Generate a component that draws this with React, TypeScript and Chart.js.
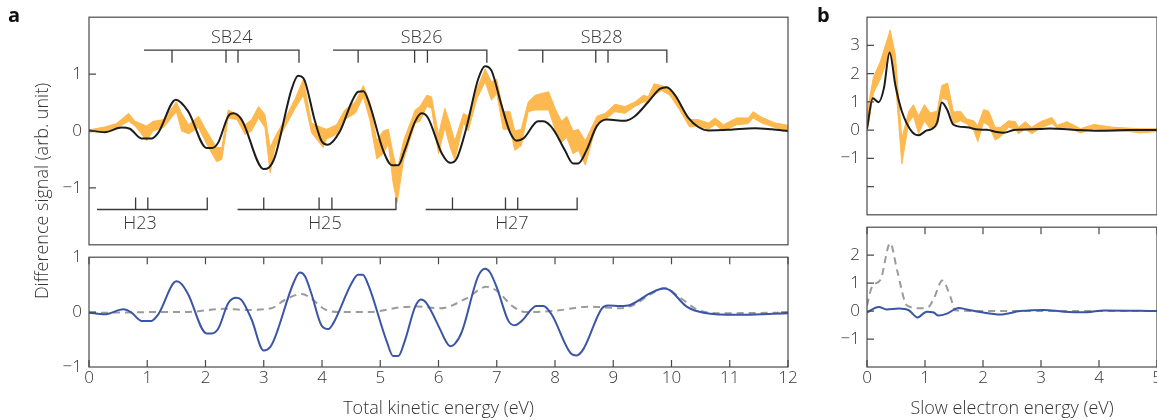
import React, { useEffect, useRef } from 'react';
import { Chart, registerables } from 'chart.js';

Chart.register(...registerables);

const FONT = '"Open Sans", "DejaVu Sans", sans-serif';
const TEXT = '#333333';
const FRAME = '#4a4a4a';
const ORANGE = '#FDB94F';
const BLACK = '#1c1c1c';
const BLUE = '#3A55A5';
const GRAY = '#9b9b9b';

// ---------- Panel a, upper: experiment band (orange) and simulation (black) ----------
const aBlackX = [0, 0.27, 0.56, 0.7, 0.9, 1.08, 1.19, 1.49, 1.7, 2.02, 2.11, 2.22, 2.39, 2.48, 2.62, 3.0, 3.09, 3.19, 3.48, 3.59, 3.68, 3.88, 3.99, 4.1, 4.31, 4.51, 4.62, 4.71, 4.82, 5.05, 5.2, 5.31, 5.42, 5.6, 5.71, 5.82, 6.06, 6.2, 6.31, 6.48, 6.68, 6.8, 6.91, 7.08, 7.23, 7.34, 7.46, 7.71, 7.8, 7.97, 8.17, 8.31, 8.4, 8.54, 8.72, 8.89, 9.2, 9.37, 9.6, 9.8, 9.92, 10.06, 10.29, 10.46, 10.63, 10.98, 11.43, 11.72, 12.0];
const aBlackY = [0.01, -0.02, 0.06, 0.04, -0.13, -0.13, -0.03, 0.55, 0.35, -0.3, -0.3, -0.2, 0.26, 0.31, 0.2, -0.67, -0.64, -0.46, 0.74, 0.97, 0.93, 0.17, -0.17, -0.24, 0.0, 0.51, 0.69, 0.7, 0.46, -0.34, -0.6, -0.6, -0.34, 0.17, 0.31, 0.23, -0.4, -0.56, -0.49, 0.06, 0.91, 1.14, 1.06, 0.46, -0.03, -0.17, -0.13, 0.17, 0.17, 0.03, -0.34, -0.57, -0.57, -0.34, 0.09, 0.2, 0.18, 0.26, 0.51, 0.74, 0.77, 0.63, 0.23, 0.07, 0.01, 0.02, 0.05, 0.03, 0.0];

const aBandX = [0, 0.27, 0.47, 0.68, 0.79, 0.99, 1.1, 1.28, 1.5, 1.59, 1.71, 1.88, 2.02, 2.19, 2.28, 2.39, 2.54, 2.68, 2.79, 2.91, 3.02, 3.11, 3.19, 3.36, 3.54, 3.68, 3.82, 4.02, 4.08, 4.25, 4.39, 4.57, 4.71, 4.82, 4.94, 5.05, 5.14, 5.22, 5.29, 5.4, 5.6, 5.68, 5.8, 5.88, 6.0, 6.11, 6.2, 6.28, 6.43, 6.51, 6.66, 6.8, 6.91, 7.0, 7.11, 7.23, 7.31, 7.42, 7.54, 7.66, 7.89, 8.0, 8.11, 8.2, 8.31, 8.4, 8.52, 8.72, 8.86, 9.03, 9.2, 9.37, 9.52, 9.6, 9.7, 9.83, 9.97, 10.14, 10.31, 10.46, 10.63, 10.75, 10.89, 11.12, 11.32, 11.4, 11.55, 11.78, 12.0];
const aBandHi = [0.02, 0.07, 0.13, 0.31, 0.17, 0.09, 0.17, 0.2, 0.51, 0.31, 0.11, 0.26, 0.0, -0.29, -0.29, 0.37, 0.29, 0.11, 0.2, 0.43, 0.29, -0.29, -0.11, 0.2, 0.57, 0.91, 0.14, 0.05, 0.03, 0.11, 0.37, 0.51, 0.8, 0.51, -0.17, 0.0, 0.03, -0.4, -0.69, -0.17, 0.37, 0.43, 0.63, 0.6, -0.06, 0.4, 0.11, -0.17, 0.31, 0.26, 0.74, 1.09, 0.86, 0.91, 0.34, 0.34, 0.0, 0.03, 0.51, 0.63, 0.69, 0.4, 0.17, 0.26, 0.0, 0.03, -0.17, 0.26, 0.31, 0.47, 0.43, 0.51, 0.63, 0.6, 0.83, 0.8, 0.74, 0.49, 0.2, 0.2, 0.14, 0.23, 0.11, 0.23, 0.23, 0.34, 0.24, 0.14, 0.1];
const aBandLo = [-0.02, 0.0, 0.05, 0.17, 0.09, -0.17, 0.0, 0.06, 0.34, 0.0, -0.05, 0.06, -0.23, -0.54, -0.5, 0.23, 0.2, -0.06, 0.0, 0.23, 0.06, -0.74, -0.29, 0.06, 0.4, 0.63, -0.03, -0.29, -0.14, -0.06, 0.2, 0.31, 0.6, 0.2, -0.49, -0.4, -0.23, -0.91, -1.26, -0.51, 0.14, 0.17, 0.43, 0.4, -0.4, 0.06, -0.29, -0.51, 0.14, 0.0, 0.57, 0.86, 0.54, 0.66, 0.03, 0.03, -0.34, -0.26, 0.34, 0.37, 0.37, 0.03, -0.2, -0.11, -0.4, -0.34, -0.6, 0.14, 0.2, 0.34, 0.31, 0.43, 0.51, 0.51, 0.63, 0.71, 0.63, 0.37, 0.07, 0.09, 0.03, 0.11, 0.0, 0.11, 0.13, 0.23, 0.14, 0.06, 0.0];

// Sideband / harmonic markers (energies in eV)
const sbNames = ['SB24', 'SB26', 'SB28'];
const sbNameX = [2.45, 5.71, 8.8];
const sbStart = [0.944, 4.19, 7.37];
const sbEnd = [3.605, 6.83, 9.92];
const sbTicks = [[1.425, 2.352, 2.558], [4.62, 5.59, 5.81], [7.79, 8.7, 8.91]];
const hNames = ['H23', 'H25', 'H27'];
const hNameX = [0.875, 4.05, 7.26];
const hStart = [0.137, 2.55, 5.78];
const hEnd = [2.03, 5.27, 8.38];
const hTicks = [[0.8, 1.01], [3.0, 3.95, 4.17], [6.24, 7.15, 7.36]];
const sbLineY = 1.42;
const sbTickY = 1.2;
const sbTextY = 1.64;
const hLineY = -1.38;
const hTickY = -1.17;
const hTextY = -1.64;

// ---------- Panel a, lower: blue and grey dashed ----------
const aBlueX = [0, 0.27, 0.59, 0.73, 0.9, 1.07, 1.19, 1.5, 1.59, 1.7, 2.02, 2.11, 2.22, 2.39, 2.53, 2.62, 2.79, 3.0, 3.11, 3.19, 3.51, 3.62, 3.71, 3.82, 3.99, 4.11, 4.19, 4.51, 4.62, 4.7, 4.8, 5.11, 5.22, 5.31, 5.42, 5.6, 5.7, 5.79, 6.03, 6.11, 6.2, 6.28, 6.4, 6.68, 6.8, 6.88, 7.0, 7.2, 7.31, 7.43, 7.68, 7.8, 7.94, 8.28, 8.37, 8.49, 8.8, 8.91, 9.12, 9.29, 9.63, 9.86, 9.97, 10.26, 10.55, 11.17, 11.74, 12.0];
const aBlueY = [-0.01, -0.04, 0.05, -0.01, -0.16, -0.16, -0.04, 0.56, 0.51, 0.33, -0.39, -0.39, -0.3, 0.16, 0.26, 0.22, -0.13, -0.7, -0.64, -0.47, 0.53, 0.72, 0.65, 0.33, -0.24, -0.31, -0.21, 0.53, 0.68, 0.68, 0.48, -0.53, -0.8, -0.8, -0.53, 0.1, 0.23, 0.17, -0.32, -0.5, -0.62, -0.58, -0.36, 0.65, 0.79, 0.73, 0.45, -0.16, -0.24, -0.16, 0.11, 0.11, -0.04, -0.76, -0.79, -0.67, 0.06, 0.12, 0.11, 0.13, 0.34, 0.43, 0.4, 0.1, -0.01, -0.05, -0.03, -0.02];
const aGrayX = [0, 0.3, 1.07, 1.65, 2.33, 2.68, 3.13, 3.36, 3.65, 3.76, 4.05, 4.28, 4.8, 5.37, 5.65, 6.03, 6.48, 6.82, 7.0, 7.28, 7.51, 7.97, 8.6, 9.12, 9.35, 9.63, 9.89, 10.1, 10.5, 10.89, 12.0];
const aGrayY = [-0.01, -0.01, 0.0, 0.0, 0.06, 0.04, 0.07, 0.22, 0.33, 0.29, 0.05, 0.0, 0.0, 0.09, 0.1, 0.07, 0.25, 0.46, 0.39, 0.1, 0.0, 0.02, 0.1, 0.07, 0.13, 0.32, 0.44, 0.3, 0.02, -0.02, -0.01];

// ---------- Panel b, upper ----------
const bBlackX = [0, 0.1, 0.2, 0.29, 0.39, 0.49, 0.6, 0.78, 0.89, 1.03, 1.12, 1.21, 1.29, 1.38, 1.49, 1.72, 1.92, 2.07, 2.24, 2.36, 2.53, 2.99, 3.16, 3.5, 4.0, 4.5, 5.0];
const bBlackY = [0.04, 1.13, 0.99, 1.47, 2.75, 1.58, 0.67, -0.07, -0.18, -0.01, 0.04, 0.27, 0.98, 0.73, 0.19, 0.1, 0.02, 0.01, -0.07, -0.09, 0.0, 0.04, 0.06, 0.02, -0.02, 0.0, 0.0];
const bBandX = [0, 0.03, 0.11, 0.23, 0.4, 0.49, 0.55, 0.6, 0.72, 0.8, 0.89, 0.99, 1.09, 1.21, 1.29, 1.39, 1.49, 1.61, 1.72, 1.84, 1.91, 2.01, 2.1, 2.21, 2.3, 2.44, 2.56, 2.61, 2.73, 2.84, 2.99, 3.19, 3.28, 3.45, 3.68, 3.91, 4.25, 4.52, 4.71, 5.0];
const bBandHi = [0.5, 0.96, 1.87, 2.43, 3.55, 2.66, 1.0, -0.3, 0.67, 0.9, 0.5, 0.9, 0.61, 0.67, 1.58, 1.67, 0.64, 0.67, 0.39, 0.33, 0.16, 0.73, 0.67, 0.1, 0.1, 0.33, 0.3, 0.1, 0.3, 0.1, 0.3, 0.45, 0.17, 0.3, 0.05, 0.2, 0.1, 0.07, 0.05, 0.05];
const bBandLo = [0.0, 0.27, 1.3, 1.81, 2.77, 1.75, 0.16, -1.2, 0.27, 0.5, -0.13, 0.33, 0.04, 0.16, 1.13, 1.07, 0.22, 0.33, 0.22, -0.01, -0.41, 0.27, 0.16, -0.35, -0.24, 0.1, 0.04, -0.13, 0.04, -0.13, 0.07, 0.23, 0.06, 0.1, -0.1, 0.05, -0.03, -0.05, -0.1, -0.05];

// ---------- Panel b, lower ----------
const bBlueX = [0, 0.2, 0.34, 0.55, 0.72, 0.87, 1.03, 1.15, 1.23, 1.38, 1.58, 1.72, 1.95, 2.3, 2.64, 3.05, 3.39, 3.79, 4.08, 5.0];
const bBlueY = [-0.05, 0.15, 0.06, 0.09, 0.03, -0.23, -0.02, -0.05, -0.16, -0.09, 0.11, 0.06, -0.03, -0.12, 0.0, 0.04, -0.02, -0.04, 0.02, 0.0];
const bGrayX = [0, 0.09, 0.23, 0.4, 0.52, 0.69, 0.92, 1.06, 1.15, 1.3, 1.44, 1.52, 1.95, 5.0];
const bGrayY = [0.2, 0.89, 1.11, 2.43, 1.45, 0.2, 0.1, 0.15, 0.44, 1.09, 0.5, 0.03, 0.0, 0.0];

const aXTicks = [0, 1, 2, 3, 4, 5, 6, 7, 8, 9, 10, 11, 12];
const bXTicks = [0, 1, 2, 3, 4, 5];

const pts = (xs: number[], ys: number[]) => xs.map((x, i) => ({ x, y: ys[i] }));

function bracketPoints(starts: number[], ends: number[], ticks: number[][], yLine: number, yTick: number) {
  const out: { x: number; y: number | null }[] = [];
  starts.forEach((s, i) => {
    const e = ends[i];
    out.push({ x: s, y: yLine }, { x: e, y: yLine }, { x: e, y: yTick }, { x: e, y: null });
    ticks[i].forEach((t) => {
      out.push({ x: t, y: yLine }, { x: t, y: yTick }, { x: t, y: null });
    });
  });
  return out;
}

const fmt = (v: number) => (v < 0 ? '\u2212' + Math.abs(v) : String(v));

const framePlugin = {
  id: 'frameTicks',
  afterDatasetsDraw(chart: any, _args: any, opts: any) {
    const { ctx, chartArea: a, scales } = chart;
    const xs = scales.x;
    const ys = scales.y;
    const L = 7;
    ctx.save();
    ctx.strokeStyle = FRAME;
    ctx.lineWidth = 1.2;
    ctx.strokeRect(a.left, a.top, a.right - a.left, a.bottom - a.top);
    ctx.beginPath();
    (opts.xTicks || []).forEach((v: number) => {
      const p = xs.getPixelForValue(v);
      if (opts.xBottom) { ctx.moveTo(p, a.bottom); ctx.lineTo(p, a.bottom - L); }
      if (opts.xTop) { ctx.moveTo(p, a.top); ctx.lineTo(p, a.top + L); }
    });
    (opts.yTicks || []).forEach((v: number) => {
      const p = ys.getPixelForValue(v);
      if (opts.yLeft) { ctx.moveTo(a.left, p); ctx.lineTo(a.left + L, p); }
      if (opts.yRight) { ctx.moveTo(a.right, p); ctx.lineTo(a.right - L, p); }
    });
    ctx.stroke();
    ctx.restore();
  },
};

const textPlugin = {
  id: 'markerText',
  afterDatasetsDraw(chart: any, _args: any, opts: any) {
    const items = (opts && opts.items) || [];
    if (!items.length) return;
    const { ctx, scales } = chart;
    ctx.save();
    ctx.fillStyle = TEXT;
    ctx.font = `300 18px ${FONT}`;
    ctx.textAlign = 'center';
    ctx.textBaseline = 'middle';
    items.forEach((it: any) => {
      ctx.fillText(it.text, scales.x.getPixelForValue(it.x), scales.y.getPixelForValue(it.y));
    });
    ctx.restore();
  },
};

const tickFont = { family: FONT, size: 17, weight: '300' as any };

function yAxis(min: number, max: number, labelled: number[], width: number) {
  return {
    type: 'linear' as const,
    min,
    max,
    afterFit: (s: any) => { s.width = width; },
    grid: { display: false, drawTicks: false },
    border: { display: false },
    ticks: {
      stepSize: 1,
      padding: 7,
      color: TEXT,
      font: tickFont,
      callback: (v: any) => (labelled.includes(Number(v)) ? fmt(Number(v)) : ''),
    },
  };
}

function xAxis(min: number, max: number, title: string | null) {
  if (!title) return { type: 'linear' as const, min, max, display: false };
  return {
    type: 'linear' as const,
    min,
    max,
    afterFit: (s: any) => { s.height = 53; },
    grid: { display: false, drawTicks: false },
    border: { display: false },
    ticks: { stepSize: 1, padding: 1, autoSkip: false, maxRotation: 0, color: TEXT, font: tickFont, callback: (v: any) => String(v) },
    title: { display: true, text: title, color: TEXT, font: { family: FONT, size: 18, weight: '300' as any }, padding: { top: 0, bottom: 0 } },
  };
}

const line = (data: any[], color: string, extra: any = {}) => ({
  data,
  borderColor: color,
  backgroundColor: color,
  borderWidth: 2,
  pointRadius: 0,
  fill: false,
  cubicInterpolationMode: 'monotone',
  ...extra,
});

function makeConfig(kind: string): any {
  const base = {
    type: 'line',
    plugins: [framePlugin, textPlugin],
  };
  const common = {
    responsive: false,
    animation: false,
    events: [],
    plugins: { legend: { display: false }, tooltip: { enabled: false } } as any,
  };
  if (kind === 'aTop') {
    const items = [
      ...sbNames.map((t, i) => ({ text: t, x: sbNameX[i], y: sbTextY })),
      ...hNames.map((t, i) => ({ text: t, x: hNameX[i], y: hTextY })),
    ];
    return {
      ...base,
      data: {
        datasets: [
          line(pts(aBlackX, aBlackY), BLACK, { order: 0 }),
          line(bracketPoints(sbStart, sbEnd, sbTicks, sbLineY, sbTickY), '#3a3a3a', { order: 1, borderWidth: 1.3, cubicInterpolationMode: 'default', tension: 0 }),
          line(bracketPoints(hStart, hEnd, hTicks, hLineY, hTickY), '#3a3a3a', { order: 1, borderWidth: 1.3, cubicInterpolationMode: 'default', tension: 0 }),
          line(pts(aBandX, aBandLo), ORANGE, { order: 5, borderWidth: 1, cubicInterpolationMode: 'default', tension: 0 }),
          line(pts(aBandX, aBandHi), ORANGE, { order: 5, borderWidth: 1, fill: '-1', cubicInterpolationMode: 'default', tension: 0 }),
        ],
      },
      options: {
        ...common,
        layout: { padding: { left: 0, top: 17, right: 12, bottom: 11 } },
        scales: { x: xAxis(0, 12, null), y: yAxis(-2, 2, [-1, 0, 1], 89) },
        plugins: { ...common.plugins, frameTicks: { yTicks: [-1, 0, 1], yLeft: true }, markerText: { items } },
      },
    };
  }
  if (kind === 'aBottom') {
    return {
      ...base,
      data: {
        datasets: [
          line(pts(aBlueX, aBlueY), BLUE, { order: 0 }),
          line(pts(aGrayX, aGrayY), GRAY, { order: 1, borderDash: [7, 5] }),
        ],
      },
      options: {
        ...common,
        layout: { padding: { left: 0, top: 11, right: 12, bottom: 0 } },
        scales: { x: xAxis(0, 12, 'Total kinetic energy (eV)'), y: yAxis(-1, 1, [-1, 0, 1], 89) },
        plugins: { ...common.plugins, frameTicks: { xTicks: aXTicks, xTop: true, xBottom: true, yTicks: [0], yLeft: true, yRight: true } },
      },
    };
  }
  if (kind === 'bTop') {
    return {
      ...base,
      data: {
        datasets: [
          line(pts(bBlackX, bBlackY), BLACK, { order: 0 }),
          line(pts(bBandX, bBandLo), ORANGE, { order: 5, borderWidth: 1, cubicInterpolationMode: 'default', tension: 0 }),
          line(pts(bBandX, bBandHi), ORANGE, { order: 5, borderWidth: 1, fill: '-1', cubicInterpolationMode: 'default', tension: 0 }),
        ],
      },
      options: {
        ...common,
        layout: { padding: { left: 0, top: 17, right: 23, bottom: 10 } },
        scales: { x: xAxis(0, 5, null), y: yAxis(-3, 4, [-1, 0, 1, 2, 3], 47) },
        plugins: { ...common.plugins, frameTicks: { yTicks: [-2, -1, 0, 1, 2, 3], yLeft: true } },
      },
    };
  }
  return {
    ...base,
    data: {
      datasets: [
        line(pts(bBlueX, bBlueY), BLUE, { order: 0 }),
        line(pts(bGrayX, bGrayY), GRAY, { order: 1, borderDash: [7, 5] }),
      ],
    },
    options: {
      ...common,
      layout: { padding: { left: 0, top: 12, right: 23, bottom: 0 } },
      scales: { x: xAxis(0, 5, 'Slow electron energy (eV)'), y: yAxis(-2, 3, [-1, 0, 1, 2], 47) },
      plugins: { ...common.plugins, frameTicks: { xTicks: bXTicks, xTop: true, xBottom: true, yTicks: [-1, 0, 1, 2], yLeft: true } },
    },
  };
}

function Panel({ kind, left, top, width, height }: { kind: string; left: number; top: number; width: number; height: number }) {
  const ref = useRef<HTMLCanvasElement | null>(null);
  useEffect(() => {
    if (!ref.current) return;
    const chart = new Chart(ref.current, makeConfig(kind));
    return () => chart.destroy();
  }, [kind]);
  return (
    <canvas
      ref={ref}
      width={width}
      height={height}
      style={{ position: 'absolute', left, top, width, height }}
    />
  );
}

export default function App() {
  return (
    <div
      style={{
        position: 'fixed',
        left: 0,
        top: 0,
        width: 1157,
        height: 420,
        overflow: 'hidden',
        background: '#ffffff',
        fontFamily: FONT,
        color: TEXT,
      }}
    >
      <Panel kind="aTop" left={0} top={0} width={800} height={262} />
      <Panel kind="aBottom" left={0} top={240} width={800} height={180} />
      <Panel kind="bTop" left={820} top={0} width={360} height={232} />
      <Panel kind="bBottom" left={820} top={210} width={360} height={210} />
      <div style={{ position: 'absolute', left: 8, top: 5, fontSize: 20, lineHeight: '20px', fontWeight: 700, color: '#111' }}>a</div>
      <div style={{ position: 'absolute', left: 817, top: 5, fontSize: 20, lineHeight: '20px', fontWeight: 700, color: '#111' }}>b</div>
      <div
        style={{
          position: 'absolute',
          left: 40.5 - 150,
          top: 191 - 10,
          width: 300,
          height: 20,
          lineHeight: '20px',
          fontSize: 18,
          fontWeight: 300,
          textAlign: 'center',
          transform: 'rotate(-90deg)',
          whiteSpace: 'nowrap',
        }}
      >
        Difference signal (arb. unit)
      </div>
    </div>
  );
}
